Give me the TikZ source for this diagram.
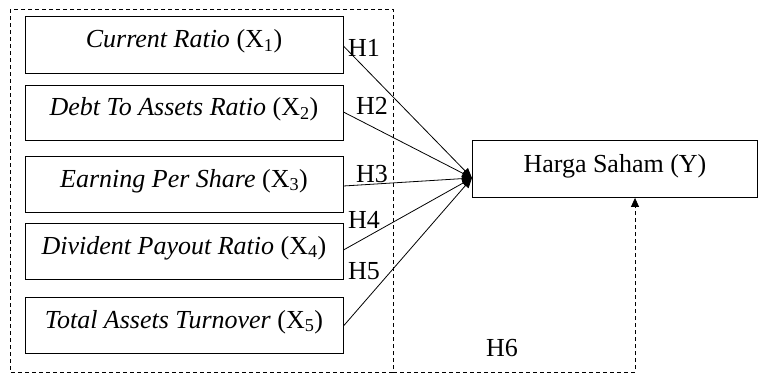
\documentclass[tikz,border=0pt]{standalone}
\usepackage{fontspec}
\setmainfont{Liberation Serif}
\usetikzlibrary{arrows.meta}
\newcommand{\up}[1]{\raisebox{3pt}[\height][\depth]{#1}}
\begin{document}
\begin{tikzpicture}[x=1pt,y=-1pt,
  varbox/.style={draw,line width=0.9pt,minimum width=318pt,inner sep=0pt,font=\fontsize{26}{30}\selectfont},
  hlab/.style={font=\fontsize{26}{30}\selectfont,inner sep=0pt},
  conn/.style={line width=0.8pt,-{Triangle[length=10pt,width=8pt]}},
  frame/.style={dashed,line width=0.8pt,dash pattern=on 4pt off 3pt}]
\useasboundingbox (0,0) rectangle (767,373);
\node[varbox,minimum height=57pt] (x1) at (184,44.5) {\up{\textit{Current Ratio} (X\textsubscript{1})}};
\node[varbox,minimum height=55pt] (x2) at (184,112.5) {\up{\textit{Debt To Assets Ratio} (X\textsubscript{2})}};
\node[varbox,minimum height=56pt] (x3) at (184,184) {\up{\textit{Earning Per Share} (X\textsubscript{3})}};
\node[varbox,minimum height=56pt] (x4) at (184,251) {\up{\textit{Divident Payout Ratio} (X\textsubscript{4})}};
\node[varbox,minimum height=56pt] (x5) at (184,325) {\up{\textit{Total Assets Turnover} (X\textsubscript{5})}};
\node[varbox,minimum width=285pt,minimum height=57pt,anchor=north west] (y) at (472,140) {\up{Harga Saham (Y)}};
\coordinate (c) at (472,178);
\draw[frame] (10,9) rectangle (393,372);
\coordinate (b1) at (393,372);
\coordinate (b2) at (635,372);
\draw[frame,-{Triangle[length=9pt,width=8pt]}] (b1) -- (b2) -- (b2 |- y.south);
\draw[conn] (x1.east |- 0,46) -- (c);
\draw[conn] (x2.east |- 0,112) -- (c);
\draw[conn] (x3.east |- 0,186) -- (c);
\draw[conn] (x4.east |- 0,250) -- (c);
\draw[conn] (x5.east |- 0,326) -- (c);
\node[hlab] (h1) at (364,48) {H1};
\node[hlab] (h2) at (372,106) {H2};
\node[hlab] (h3) at (372,174) {H3};
\node[hlab] (h4) at (364,220) {H4};
\node[hlab] (h5) at (364,271) {H5};
\node[hlab] (h6) at (502,348) {H6};
\end{tikzpicture}
\end{document}
